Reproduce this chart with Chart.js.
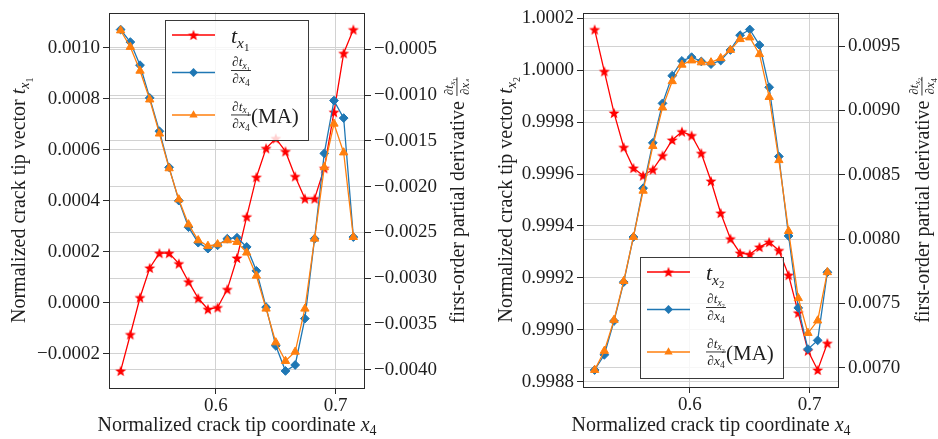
<!DOCTYPE html>
<html lang="en">
<head>
<meta charset="UTF-8">
<title>Crack tip vector and first-order derivatives</title>
<script src="https://cdn.jsdelivr.net/npm/chart.js"></script>
<style>
  body { margin: 0; background: #fff; }
  #wrap { position: relative; width: 938px; height: 439px; }
  .panel { position: absolute; top: 0; width: 469px; height: 439px; }
</style>
</head>
<body>
<div id="wrap">
  <div class="panel" style="left:0"><canvas id="left" width="469" height="439"></canvas></div>
  <div class="panel" style="left:469px"><canvas id="right" width="469" height="439"></canvas></div>
</div>
<script>
// normalized crack tip coordinate x4 (shared by both panels)
const x4 = [0.5205, 0.5286, 0.5367, 0.5448, 0.5529, 0.5610, 0.5691, 0.5772, 0.5853, 0.5934,
            0.6015, 0.6096, 0.6177, 0.6258, 0.6339, 0.6420, 0.6501, 0.6582, 0.6663, 0.6744,
            0.6825, 0.6906, 0.6987, 0.7068, 0.7149];

// left panel: t_x1 and its derivative
const tx1 = [-0.000267, -0.000124, 0.000021, 0.000137, 0.000195, 0.000195, 0.000154, 0.000083, 0.000018, -0.000025,
             -0.000018, 0.000053, 0.000176, 0.000338, 0.000493, 0.000606, 0.000645, 0.000594, 0.000496, 0.000409,
             0.000409, 0.000528, 0.000748, 0.000979, 0.001072];
const dtx1 = [-0.000285, -0.000421, -0.000674, -0.001031, -0.001395, -0.001789, -0.002152, -0.002442, -0.002611, -0.002676,
              -0.002640, -0.002568, -0.002557, -0.002658, -0.002918, -0.003315, -0.003737, -0.004011, -0.003946, -0.003440,
              -0.002568, -0.001637, -0.001060, -0.001251, -0.002550];
const dtx1MA = [-0.000295, -0.000475, -0.000735, -0.001049, -0.001421, -0.001800, -0.002139, -0.002412, -0.002586, -0.002647,
                -0.002629, -0.002586, -0.002604, -0.002720, -0.002972, -0.003332, -0.003700, -0.003903, -0.003802, -0.003332,
                -0.002568, -0.001789, -0.001313, -0.001627, -0.002550];

// right panel: t_x2 and its derivative
const tx2 = [1.000156, 0.999995, 0.999835, 0.999703, 0.999623, 0.999594, 0.999617, 0.999671, 0.999731, 0.999763,
             0.999748, 0.999680, 0.999573, 0.999450, 0.999351, 0.999296, 0.999291, 0.999319, 0.999338, 0.999306,
             0.999211, 0.999066, 0.998920, 0.998846, 0.998949];
const dtx2 = [0.006982, 0.007100, 0.007363, 0.007665, 0.008016, 0.008395, 0.008748, 0.009055, 0.009270, 0.009385,
              0.009414, 0.009381, 0.009360, 0.009388, 0.009470, 0.009585, 0.009629, 0.009508, 0.009180, 0.008642,
              0.008024, 0.007465, 0.007144, 0.007212, 0.007742];
const dtx2MA = [0.006982, 0.007130, 0.007371, 0.007673, 0.008016, 0.008375, 0.008723, 0.009022, 0.009227, 0.009355,
                0.009388, 0.009373, 0.009373, 0.009406, 0.009470, 0.009554, 0.009567, 0.009437, 0.009104, 0.008613,
                0.008062, 0.007540, 0.007269, 0.007366, 0.007742];

// tick values
const xTicks = [0.6, 0.7];
const tx1Ticks = [-0.0002, 0.0000, 0.0002, 0.0004, 0.0006, 0.0008, 0.0010];
const dtx1Ticks = [-0.0040, -0.0035, -0.0030, -0.0025, -0.0020, -0.0015, -0.0010, -0.0005];
const tx2Ticks = [0.9988, 0.9990, 0.9992, 0.9994, 0.9996, 0.9998, 1.0000, 1.0002];
const dtx2Ticks = [0.0070, 0.0075, 0.0080, 0.0085, 0.0090, 0.0095];

const SERIF = '"Liberation Serif", "Times New Roman", serif';
const INK = '#1e1e1e';
const RED = '#ff0000', BLUE = '#1f77b4', ORANGE = '#ff7f0e';

// 5% margin on each side, like matplotlib autoscaling
function padRange(...arrs) {
  const all = [].concat(...arrs);
  const lo = Math.min(...all), hi = Math.max(...all), m = (hi - lo) * 0.05;
  return [lo - m, hi + m];
}
const pairs = (xs, ys) => xs.map((x, i) => ({ x, y: ys[i] }));
const fmt = d => v => (v < 0 ? '\u2212' : '') + Math.abs(v).toFixed(d);

// filled five-point star marker
function starMarker(color, r) {
  const c = document.createElement('canvas');
  const s = Math.ceil(r * 2 + 2);
  c.width = c.height = s;
  const g = c.getContext('2d');
  g.fillStyle = color;
  g.beginPath();
  for (let i = 0; i < 10; i++) {
    const rad = i % 2 ? r * 0.42 : r;
    const a = -Math.PI / 2 + i * Math.PI / 5;
    g.lineTo(s / 2 + rad * Math.cos(a), s / 2 + rad * Math.sin(a) + r * 0.1);
  }
  g.closePath();
  g.fill();
  return c;
}
const STAR = starMarker(RED, 5.8);

// ---- small math-text renderer (runs, subscripts, fractions) ----
const R = (t, s, it, dy) => ({ t, s, it: !!it, dy: dy || 0 });
const tSym = (n, s) => [R('t', s, true), R('x', s * 0.7, true, s * 0.22), R(n, s * 0.5, false, s * 0.38)];
const dFrac = (n, s, axis) => ({
  num: [R('\u2202', s), ...tSym(n, s)],
  den: [R('\u2202', s), R('x', s, true), R('4', s * 0.7, false, s * 0.22)],
  axis, up: 4.5, down: s * 0.78 + 2
});
function runW(ctx, r) {
  if (r.num) return Math.max(seqW(ctx, r.num), seqW(ctx, r.den)) + 2;
  ctx.font = (r.it ? 'italic ' : '') + r.s + 'px ' + SERIF;
  return ctx.measureText(r.t).width;
}
function seqW(ctx, seq) { return seq.reduce((w, r) => w + runW(ctx, r), 0); }
function drawSeq(ctx, seq, x, y) {
  for (const r of seq) {
    const w = runW(ctx, r);
    if (r.num) {
      const bar = y - r.axis;
      drawSeq(ctx, r.num, x + (w - seqW(ctx, r.num)) / 2, bar - r.up);
      drawSeq(ctx, r.den, x + (w - seqW(ctx, r.den)) / 2, bar + r.down);
      ctx.fillRect(x, bar - 0.5, w, 0.9);
    } else {
      ctx.font = (r.it ? 'italic ' : '') + r.s + 'px ' + SERIF;
      ctx.fillText(r.t, x, y + r.dy);
    }
    x += w;
  }
}
function drawCentered(ctx, seq, cx, baseY, rotate) {
  ctx.save();
  ctx.translate(cx, baseY);
  if (rotate) ctx.rotate(-Math.PI / 2);
  drawSeq(ctx, seq, -seqW(ctx, seq) / 2, 0);
  ctx.restore();
}

function drawMarker(ctx, kind, x, y) {
  if (kind === 'star') { ctx.drawImage(STAR, x - STAR.width / 2, y - STAR.height / 2); return; }
  ctx.beginPath();
  if (kind === 'diamond') {
    const r = 4.4;
    ctx.moveTo(x, y - r); ctx.lineTo(x + r, y); ctx.lineTo(x, y + r); ctx.lineTo(x - r, y);
  } else {
    const r = 4.8;
    for (let k = 0; k < 3; k++) {
      const a = k * 2 * Math.PI / 3;
      ctx.lineTo(x + Math.sin(a) * r, y - Math.cos(a) * r);
    }
  }
  ctx.closePath();
  ctx.fill();
}

// legend box, frame and axis titles drawn on top of the chart
function decorPlugin(spec) {
  return {
    id: 'decor',
    afterDraw(chart) {
      const ctx = chart.ctx, a = chart.chartArea;
      ctx.save();
      ctx.strokeStyle = '#2a2a2a';
      ctx.lineWidth = 1;
      ctx.strokeRect(Math.round(a.left) + 0.5, Math.round(a.top) + 0.5,
                     Math.round(a.right - a.left) - 1, Math.round(a.bottom - a.top) - 1);

      // legend
      const L = spec.legend;
      ctx.fillStyle = 'rgba(255,255,255,0.82)';
      ctx.fillRect(L.x, L.y, L.w, L.h);
      ctx.strokeStyle = '#3a3a3a';
      ctx.strokeRect(L.x + 0.5, L.y + 0.5, L.w, L.h);
      const rows = [
        { c: RED, m: 'star', dy: 15, seq: tSym(spec.n, 22) },
        { c: BLUE, m: 'diamond', dy: 52.5, seq: [dFrac(spec.n, 13.5, 5)] },
        { c: ORANGE, m: 'triangle', dy: 95, seq: [dFrac(spec.n, 13.5, 8), R('(MA)', 21)] }
      ];
      for (const row of rows) {
        const y = L.y + row.dy;
        ctx.strokeStyle = row.c;
        ctx.lineWidth = 1.3;
        ctx.beginPath();
        ctx.moveTo(L.x + 7, y); ctx.lineTo(L.x + 50, y);
        ctx.stroke();
        ctx.fillStyle = row.c;
        drawMarker(ctx, row.m, L.x + 28.5, y);
        ctx.fillStyle = INK;
        ctx.textBaseline = 'alphabetic';
        drawSeq(ctx, row.seq, L.x + 66, y + (row.m === 'diamond' ? 3 : 8));
      }

      // axis titles
      ctx.fillStyle = INK;
      ctx.textBaseline = 'alphabetic';
      drawCentered(ctx, [R('Normalized crack tip coordinate ', 20), R('x', 20, true), R('4', 14, false, 4)],
                   (a.left + a.right) / 2, 431, false);
      drawCentered(ctx, [R('Normalized crack tip vector ', 20), ...tSym(spec.n, 20)],
                   spec.leftTitleX, (a.top + a.bottom) / 2, true);
      drawCentered(ctx, [R('first-order partial derivative ', 20), dFrac(spec.n, 12.5, 7)],
                   spec.rightTitleX, (a.top + a.bottom) / 2, true);
      ctx.restore();
    }
  };
}

function scaleCommon(ticks, decimals, width) {
  return {
    afterBuildTicks: s => { s.ticks = ticks.map(v => ({ value: v })); },
    afterFit: s => { s.width = width; },
    ticks: { callback: fmt(decimals), color: INK, padding: 3, font: { family: SERIF, size: 19, lineHeight: 1 } },
    grid: { color: '#d2d2d2', lineWidth: 1, tickColor: '#2a2a2a', tickLength: 6 },
    border: { display: false }
  };
}

function makePanel(id, cfg) {
  const yL = padRange(cfg.t), yR = padRange(cfg.d, cfg.ma), xr = padRange(x4);
  const line = (label, data, axis, color, extra) => Object.assign({
    label, data: pairs(x4, data), yAxisID: axis, borderColor: color, backgroundColor: color,
    borderWidth: 1.3, pointBorderWidth: 1, pointHoverRadius: 0, tension: 0
  }, extra);
  return new Chart(document.getElementById(id), {
    type: 'line',
    data: {
      datasets: [
        line('t', cfg.t, 'yL', RED, { pointStyle: STAR, order: 3 }),
        line('dt/dx4', cfg.d, 'yR', BLUE, { pointStyle: 'rectRot', pointRadius: 4.4, order: 2 }),
        line('dt/dx4 (MA)', cfg.ma, 'yR', ORANGE, { pointStyle: 'triangle', pointRadius: 4.8, order: 1 })
      ]
    },
    options: {
      responsive: false,
      animation: false,
      events: [],
      layout: { padding: { top: 10, left: 0, right: 0, bottom: 0 } },
      plugins: { legend: { display: false }, tooltip: { enabled: false } },
      scales: {
        x: Object.assign(scaleCommon(xTicks, 1, 0), {
          type: 'linear', position: 'bottom', min: xr[0], max: xr[1],
          afterFit: s => { s.height = cfg.xH; }
        }),
        yL: Object.assign(scaleCommon(cfg.tTicks, 4, cfg.leftW), {
          type: 'linear', position: 'left', min: yL[0], max: yL[1]
        }),
        yR: Object.assign(scaleCommon(cfg.dTicks, 4, cfg.rightW), {
          type: 'linear', position: 'right', min: yR[0], max: yR[1]
        })
      }
    },
    plugins: [decorPlugin(cfg.spec)]
  });
}

makePanel('left', {
  t: tx1, d: dtx1, ma: dtx1MA, tTicks: tx1Ticks, dTicks: dtx1Ticks,
  leftW: 109, rightW: 104, xH: 51,
  spec: { n: '1', legend: { x: 165, y: 20, w: 143, h: 120 }, leftTitleX: 25, rightTitleX: 464 }
});
makePanel('right', {
  t: tx2, d: dtx2, ma: dtx2MA, tTicks: tx2Ticks, dTicks: dtx2Ticks,
  leftW: 114, rightW: 99, xH: 52,
  spec: { n: '2', legend: { x: 171, y: 257, w: 143, h: 121 }, leftTitleX: 43, rightTitleX: 460 }
});
</script>
</body>
</html>
